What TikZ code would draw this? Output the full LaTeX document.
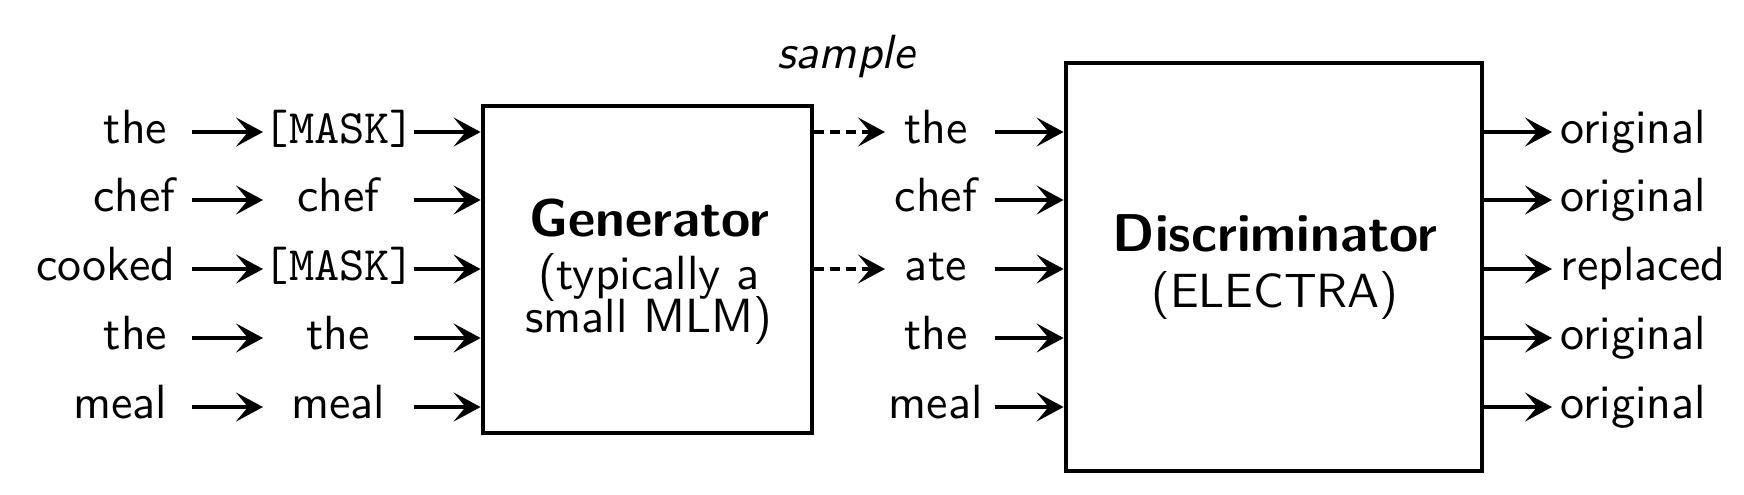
\documentclass[tikz,border=0pt]{standalone}
\usepackage{fontspec}
\setsansfont{lmsans10-regular.otf}[BoldFont=lmsans10-bold.otf, ItalicFont=lmsans10-oblique.otf, SlantedFont=lmsans10-oblique.otf, BoldItalicFont=lmsans10-boldoblique.otf]
\setmonofont{lmmono10-regular.otf}
\usetikzlibrary{arrows.meta}
\newcommand{\bigbold}[1]{{\fontsize{13.3pt}{13.25pt}\selectfont\bfseries #1}}
\begin{document}
\begin{tikzpicture}[x=0.25pt, y=-0.25pt,
  every node/.style={font=\sffamily\fontsize{12pt}{13.25pt}\selectfont},
  word/.style={inner ysep=0pt, text height=8pt, text depth=2.3pt},
  leftw/.style={word, anchor=east, text width=36pt, align=right, inner xsep=6pt},
  midw/.style={word, anchor=west, text width=37.25pt, align=center, inner xsep=0pt},
  sampw/.style={word, anchor=west, text width=25pt, align=center, inner xsep=0pt},
  outw/.style={word, anchor=west, inner xsep=2pt},
  box/.style={draw, line width=1.2pt, inner sep=0pt},
  boxtext/.style={align=center, inner sep=0pt},
  arr/.style={line width=1.2pt, -{Stealth[length=6.75pt, width=7.25pt, inset=3pt]}},
  darr/.style={arr, dash pattern=on 2.5pt off 1.5pt}
]
\useasboundingbox (0,0) rectangle (1744,494);

% generator and discriminator boxes
\node[box, minimum width=82.25pt, minimum height=81.75pt] (gen) at (647.5,269.5) {};
\node[boxtext] (gentext) at (649,272) {\bigbold{Generator}\\(typically a\\[-2.5pt]small MLM)};
\node[box, minimum width=104pt, minimum height=102pt] (disc) at (1274,267) {};
\node[boxtext] (disctext) at (1275,267) {\bigbold{Discriminator}\\[0.75pt](ELECTRA)};

% sample label
\node[anchor=base, inner sep=0pt] (samp) at (846,68) {\slshape sample};

% left column
\node[leftw] (l1) at (192,132) {the};
\node[leftw, inner xsep=4pt] (l2) at (192,200) {chef};
\node[leftw, inner xsep=4pt] (l3) at (192,269) {cooked};
\node[leftw] (l4) at (192,338) {the};
\node[leftw] (l5) at (192,407) {meal};

% masked column
\node[midw] (m1) at (263,132) {\texttt{[MASK]}};
\node[midw] (m2) at (263,200) {chef};
\node[midw] (m3) at (263,269) {\texttt{[MASK]}};
\node[midw] (m4) at (263,338) {the};
\node[midw] (m5) at (263,407) {meal};

% sampled column
\node[sampw] (s1) at (885,132) {the};
\node[sampw] (s2) at (885,200) {chef};
\node[sampw] (s3) at (885,269) {ate};
\node[sampw] (s4) at (885,338) {the};
\node[sampw] (s5) at (885,407) {meal};

% outputs
\node[outw] (o1) at (1552,132) {original};
\node[outw] (o2) at (1552,200) {original};
\node[outw] (o3) at (1552,269) {replaced};
\node[outw] (o4) at (1552,338) {original};
\node[outw] (o5) at (1552,407) {original};

\foreach \i in {1,...,5} {
  \draw[arr] (l\i.east) -- (m\i.west);
  \draw[arr] (m\i.east) -- (m\i.east -| gen.west);
  \draw[arr, shorten <=2pt] (s\i.east) -- (s\i.east -| disc.west);
  \draw[arr] (o\i.west -| disc.east) -- (o\i.west);
}
\draw[darr] (s1.west -| gen.east) -- (s1.west);
\draw[darr] (s3.west -| gen.east) -- (s3.west);
\end{tikzpicture}
\end{document}
